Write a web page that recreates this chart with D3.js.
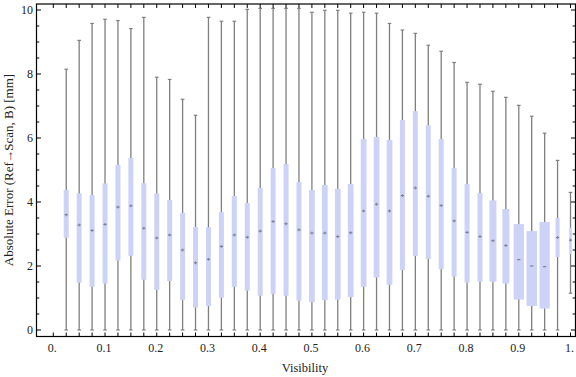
<!DOCTYPE html>
<html>
<head>
<meta charset="utf-8">
<script src="https://cdn.jsdelivr.net/npm/d3@7"></script>
<style>
  body { margin: 0; background: #fff; }
  text { font-family: "Liberation Serif", "DejaVu Serif", serif; fill: #222; }
</style>
</head>
<body>
<svg id="chart" width="576" height="377"></svg>
<script>
// one box per visibility bin
var visibility = [0.025, 0.05, 0.075, 0.1, 0.125, 0.15, 0.175, 0.2, 0.225, 0.25,
                  0.275, 0.3, 0.325, 0.35, 0.375, 0.4, 0.425, 0.45, 0.475, 0.5,
                  0.525, 0.55, 0.575, 0.6, 0.625, 0.65, 0.675, 0.7, 0.725, 0.75,
                  0.775, 0.8, 0.825, 0.85, 0.875, 0.9, 0.925, 0.95, 0.975, 1.0];
var whiskerHi = [8.15, 9.05, 9.58, 9.71, 9.67, 9.42, 9.77, 7.9, 7.83, 7.21,
                 6.71, 9.77, 9.65, 9.65, 10.02, 10.05, 10.05, 10.05, 10.05, 9.93,
                 9.99, 9.99, 9.9, 9.93, 9.9, 9.58, 9.375, 9.27, 8.9, 8.71,
                 8.36, 7.74, 7.68, 7.46, 7.27, 7.02, 6.68, 6.15, 5.3, 4.3];
var q3 = [4.375, 4.27, 4.22, 4.58, 5.16, 5.375, 4.59, 4.27, 4.06, 3.66,
          3.22, 3.21, 3.69, 4.19, 3.97, 4.44, 5.06, 5.19, 4.625, 4.375,
          4.53, 4.41, 4.56, 5.97, 6.03, 5.94, 6.56, 6.84, 6.4, 5.97,
          5.06, 4.56, 4.28, 4.05, 3.78, 3.31, 3.09, 3.375, 3.5, 3.2];
var median = [3.6, 3.28, 3.11, 3.3, 3.84, 3.88, 3.18, 2.875, 2.97, 2.5,
              2.1, 2.21, 2.61, 2.97, 2.9, 3.09, 3.39, 3.32, 3.13, 3.03,
              3.03, 2.92, 3.04, 3.72, 3.93, 3.72, 4.2, 4.44, 4.18, 3.89,
              3.41, 3.05, 2.92, 2.79, 2.64, 2.2, 2.0, 1.98, 2.89, 2.81];
var q1 = [2.885, 1.48, 1.35, 1.45, 2.17, 2.32, 1.57, 1.25, 1.53, 0.94,
          0.7, 0.75, 1.01, 1.35, 1.23, 1.07, 1.13, 1.07, 0.92, 0.875,
          0.93, 0.95, 1.03, 1.35, 1.64, 1.41, 1.875, 2.31, 2.22, 1.9,
          1.67, 1.48, 1.51, 1.51, 1.45, 0.95, 0.75, 0.67, 2.28, 2.375];
var whiskerLo = [0, 0, 0, 0, 0, 0, 0, 0, 0, 0,
                 0, 0, 0, 0, 0, 0, 0, 0, 0, 0,
                 0, 0, 0, 0, 0, 0, 0, 0, 0, 0,
                 0, 0, 0, 0, 0, 0, 0, 0, 0, 1.15];
// relative box width of each bin
var boxWeight = [1, 1, 1, 1, 1, 1, 1, 1, 1, 1,
                 1, 1, 1, 1, 1, 1, 1, 1, 1, 1.15,
                 1.15, 1.15, 1.15, 1.15, 1.15, 1.15, 1, 1, 1, 1,
                 1, 1, 1, 1.4, 1.4, 2.05, 2.1, 2.05, 0.8, 0.5];
var xTickLabels = ["0.", "0.1", "0.2", "0.3", "0.4", "0.5", "0.6", "0.7", "0.8", "0.9", "1."];
var yTickLabels = ["0", "2", "4", "6", "8", "10"];

var frame = { left: 36.5, right: 575.5, top: 4, bottom: 336.5 };

var x = d3.scaleLinear().domain([0, 1]).range([53.3, 570.5]);
var y = d3.scaleLinear().domain([0, 10]).range([330, 10]);
var w = d3.scaleLinear().domain([0, 1]).range([0, 5]);

var svg = d3.select('#chart');

var data = visibility.map(function(v, i) {
  return { v: v, lo: whiskerLo[i], q1: q1[i], med: median[i], q3: q3[i], hi: whiskerHi[i], wt: boxWeight[i] };
});

var plot = svg.append('g');

// whiskers first, boxes cover them
plot.selectAll('line.whisker')
    .data(data)
    .enter().append('line')
    .attr('class', 'whisker')
    .attr('x1', function(d) { return x(d.v); })
    .attr('x2', function(d) { return x(d.v); })
    .attr('y1', function(d) { return y(d.lo); })
    .attr('y2', function(d) { return y(d.hi); })
    .attr('stroke', '#7f7f7f')
    .attr('stroke-width', 1.3);

['lo', 'hi'].forEach(function(k) {
  plot.selectAll('line.cap-' + k)
      .data(data)
      .enter().append('line')
      .attr('class', 'cap-' + k)
      .attr('x1', function(d) { return x(d.v) - 1.8; })
      .attr('x2', function(d) { return x(d.v) + 1.8; })
      .attr('y1', function(d) { return y(d[k]); })
      .attr('y2', function(d) { return y(d[k]); })
      .attr('stroke', '#7f7f7f')
      .attr('stroke-width', 1.2);
});

plot.selectAll('rect.box')
    .data(data)
    .enter().append('rect')
    .attr('class', 'box')
    .attr('x', function(d) { return x(d.v) - w(d.wt) / 2; })
    .attr('width', function(d) { return w(d.wt); })
    .attr('y', function(d) { return y(d.q3); })
    .attr('height', function(d) { return y(d.q1) - y(d.q3); })
    .attr('fill', '#cdd3f6');

// median marker
var med = plot.selectAll('g.median')
    .data(data)
    .enter().append('g')
    .attr('class', 'median')
    .attr('transform', function(d) { return 'translate(' + x(d.v) + ',' + y(d.med) + ')'; });
med.append('line')
    .attr('x1', -1.6).attr('x2', 1.6).attr('y1', 0).attr('y2', 0)
    .attr('stroke', '#7c7f96').attr('stroke-width', 1.2);
med.append('line')
    .attr('x1', 0).attr('x2', 0).attr('y1', -1.5).attr('y2', 1.5)
    .attr('stroke', '#7c7f96').attr('stroke-width', 1)
    .attr('opacity', function(d) { return d.wt > 1.5 ? 0 : 0.8; });

// frame
svg.append('rect')
    .attr('x', frame.left).attr('y', frame.top)
    .attr('width', frame.right - frame.left).attr('height', frame.bottom - frame.top)
    .attr('fill', 'none').attr('stroke', '#000').attr('stroke-width', 1.2);

// x ticks at every bin, bottom and top
var xTicks = [0].concat(visibility);
var ticks = svg.append('g').attr('stroke', '#000').attr('stroke-width', 1);
ticks.selectAll('line.xb').data(xTicks).enter().append('line')
    .attr('x1', function(d) { return x(d); }).attr('x2', function(d) { return x(d); })
    .attr('y1', frame.bottom).attr('y2', frame.bottom - 4);
ticks.selectAll('line.xt').data(xTicks).enter().append('line')
    .attr('x1', function(d) { return x(d); }).attr('x2', function(d) { return x(d); })
    .attr('y1', frame.top).attr('y2', frame.top + 4);

// y ticks, major every 2, minor every 0.5
var yMinor = d3.range(0, 10.01, 0.5);
ticks.selectAll('line.yl').data(yMinor).enter().append('line')
    .attr('y1', function(d) { return y(d); }).attr('y2', function(d) { return y(d); })
    .attr('x1', frame.left)
    .attr('x2', function(d) { return frame.left + (d % 2 === 0 ? 4.5 : 2.8); });
ticks.selectAll('line.yr').data(yMinor).enter().append('line')
    .attr('y1', function(d) { return y(d); }).attr('y2', function(d) { return y(d); })
    .attr('x1', frame.right)
    .attr('x2', function(d) { return frame.right - (d % 2 === 0 ? 4.5 : 2.8); });

svg.append('g').selectAll('text')
    .data(xTickLabels)
    .enter().append('text')
    .attr('x', function(d, i) { return x(i / 10) - 1; })
    .attr('y', 351.5)
    .attr('text-anchor', 'middle')
    .attr('font-size', 12)
    .text(function(d) { return d; });

svg.append('g').selectAll('text')
    .data(yTickLabels)
    .enter().append('text')
    .attr('x', 33)
    .attr('y', function(d) { return y(+d) + 4; })
    .attr('text-anchor', 'end')
    .attr('font-size', 12)
    .text(function(d) { return d; });

svg.append('text')
    .attr('x', 305).attr('y', 372)
    .attr('text-anchor', 'middle')
    .attr('font-size', 12.5)
    .text('Visibility');

// axis title, arrow glyph pulled in a little
var ylab = svg.append('text')
    .attr('transform', 'translate(13,170) rotate(-90)')
    .attr('text-anchor', 'middle')
    .attr('font-size', 13);
ylab.append('tspan').text('Absolute Error (Ref');
ylab.append('tspan').attr('dx', -0.8).text('\u2192');
ylab.append('tspan').attr('dx', -0.8).text('Scan, B) [mm]');
</script>
</body>
</html>
